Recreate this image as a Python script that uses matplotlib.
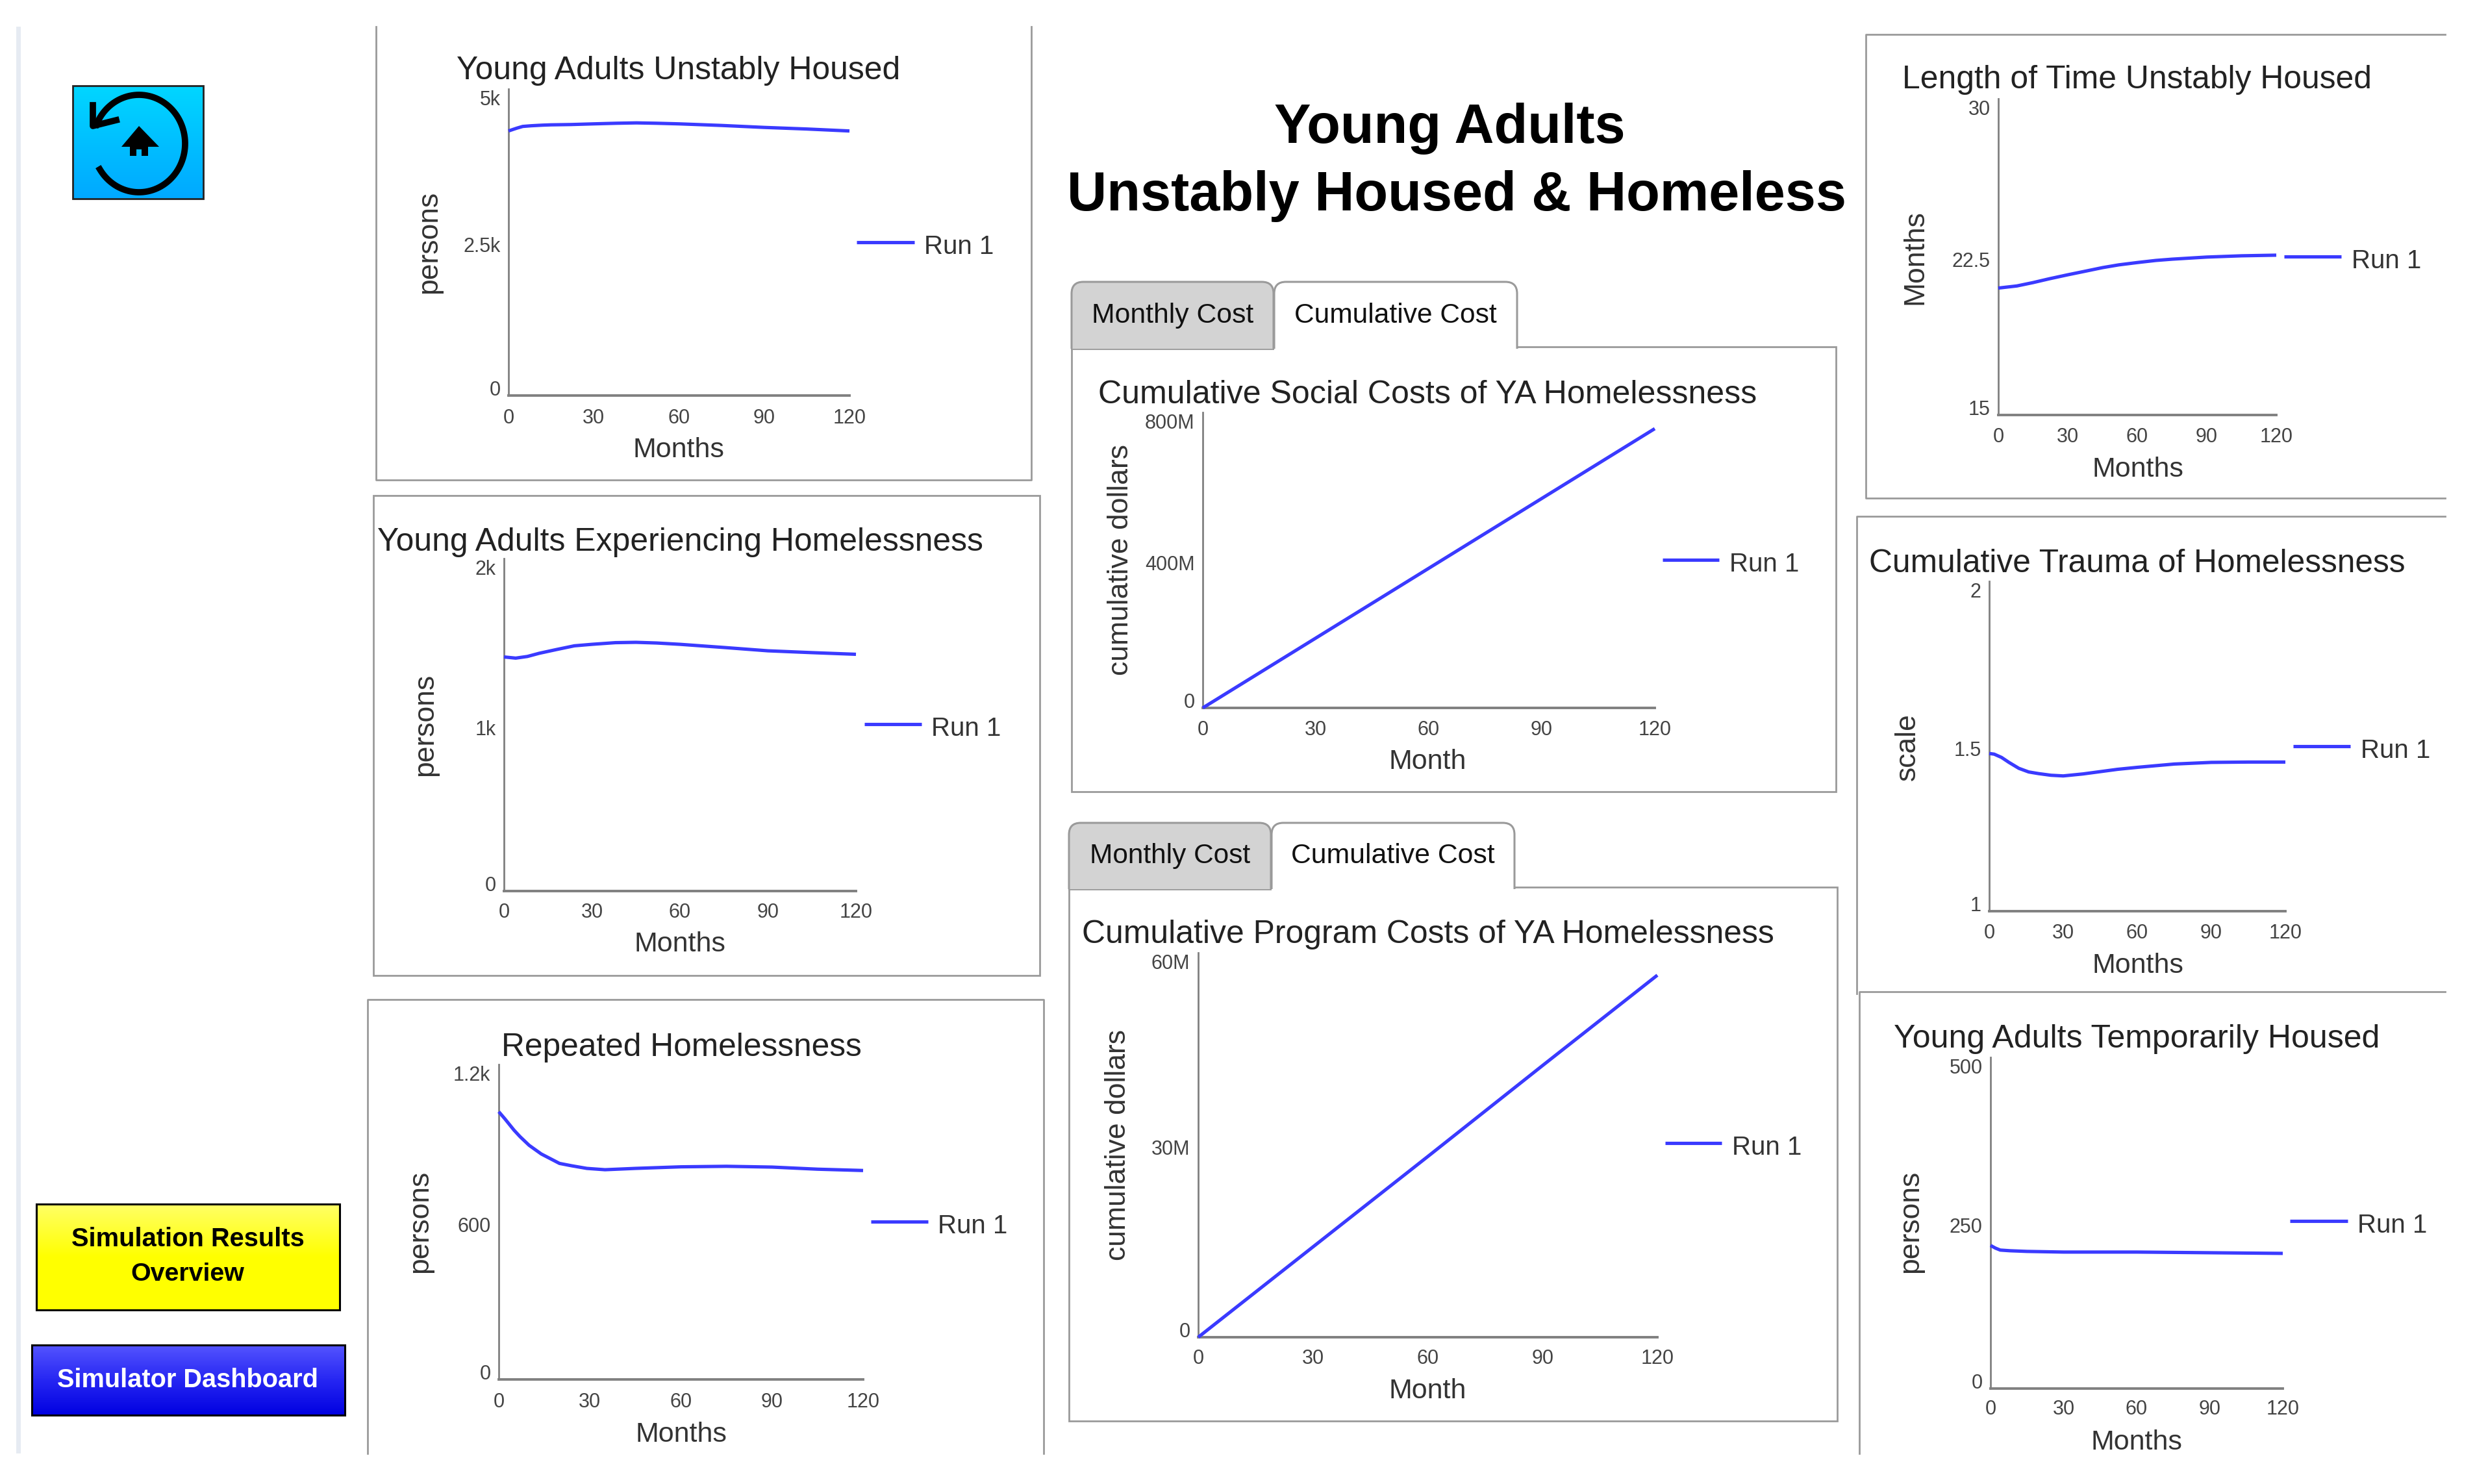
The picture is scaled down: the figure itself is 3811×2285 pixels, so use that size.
#!/usr/bin/env python
# -*- coding: utf-8 -*-

import numpy as np
import matplotlib.pyplot as plt
from matplotlib.patches import Rectangle, PathPatch, Polygon
from matplotlib.path import Path
from matplotlib.transforms import ScaledTranslation

plt.rcParams['font.family'] = ['Liberation Sans', 'DejaVu Sans']

# Values
unstableMonths = [0, 1, 3, 5, 8, 12, 15, 22, 30, 38, 45, 52, 60, 75, 90, 105, 120]
unstableVals = [4315, 4331, 4362, 4389, 4400, 4410, 4415, 4420, 4431, 4441, 4447, 4441,
                4431, 4405, 4373, 4347, 4315]

homelessMonths = [0, 4, 8, 12, 18, 24, 30, 38, 45, 52, 60, 75, 90, 105, 120]
homelessVals = [1408, 1401, 1411, 1430, 1453, 1475, 1484, 1494, 1496, 1492, 1484, 1465,
                1445, 1434, 1424]

repeatMonths = [0, 2, 5, 7, 10, 14, 17, 20, 24, 29, 35, 45, 60, 75, 90, 105, 120]
repeatVals = [1020, 993, 950, 925, 892, 859, 841, 823, 814, 804, 799, 804, 810, 812, 809,
              801, 796]

socialMonths = [0, 30, 60, 90, 120]
socialVals = [0, 189e6, 378e6, 567e6, 756e6]

programMonths = [0, 30, 60, 90, 120]
programVals = [0, 14.1e6, 28.2e6, 42.4e6, 56.5e6]

lengthMonths = [0, 8, 15, 22, 30, 38, 45, 52, 60, 68, 75, 90, 105, 120]
lengthVals = [21.02, 21.12, 21.28, 21.46, 21.65, 21.83, 21.99, 22.12, 22.23, 22.33, 22.39,
              22.49, 22.55, 22.58]

traumaMonths = [0, 2, 5, 8, 12, 16, 20, 25, 30, 38, 45, 52, 60, 75, 90, 105, 120]
traumaVals = [1.478, 1.476, 1.466, 1.451, 1.433, 1.422, 1.417, 1.412, 1.410, 1.416, 1.423,
              1.430, 1.436, 1.446, 1.451, 1.452, 1.452]

tempMonths = [0, 1, 2, 4, 8, 15, 30, 60, 90, 120]
tempVals = [216, 214, 212, 209, 208, 207, 206, 206, 205, 204]

monthTicks = [0, 30, 60, 90, 120]

W, H = 3812, 2285
LINE_BLUE = '#3a3aff'
AXIS_GRAY = '#808080'
BOX_GRAY = '#9a9a9a'

fig = plt.figure(figsize=(W / 100, H / 100), dpi=100, facecolor='white')
bg = fig.add_axes([0, 0, 1, 1])
bg.set_xlim(0, W)
bg.set_ylim(H, 0)
bg.axis('off')
renderer = fig.canvas.get_renderer()


def fitText(x, y, s, width, **kw):
    # Text sized so its drawn width matches what the reference shows
    t = bg.text(x, y, s, ha='center', va='center', fontsize=30, **kw)
    t.set_fontsize(30 * width / t.get_window_extent(renderer).width)
    return t


def boxLine(xs, ys, color=BOX_GRAY, lw=2.0):
    bg.plot(xs, ys, color=color, lw=lw, solid_capstyle='projecting', zorder=2)


def gradientButton(l, r, t, b, stops):
    grad = np.linspace(0, 1, 256)
    colors = np.array([[np.interp(g, [0, .5, 1], [s[i] for s in stops]) for i in range(3)]
                       for g in grad])
    bg.imshow(colors[:, np.newaxis, :], extent=[l, r, b, t], aspect='auto', zorder=3)
    bg.add_patch(Rectangle((l, t), r - l, b - t, fill=False, ec='black', lw=2.2, zorder=4))


def tabPath(l, r, t, b, rad=18):
    verts = [(l, b), (l, t + rad), (l, t), (l + rad, t), (r - rad, t), (r, t), (r, t + rad), (r, b)]
    codes = [Path.MOVETO, Path.LINETO, Path.CURVE3, Path.CURVE3, Path.LINETO,
             Path.CURVE3, Path.CURVE3, Path.LINETO]
    return Path(verts, codes)


def drawTabs(monthly, active, top, bottom, yText, monthlyWidth, activeWidth):
    bg.add_patch(PathPatch(tabPath(monthly[0], monthly[1], top, bottom), fc='#d3d3d3',
                           ec=BOX_GRAY, lw=2.2, zorder=5))
    boxLine([monthly[0], monthly[1]], [bottom, bottom])
    # Active tab is white and has no bottom edge, so it opens into the panel
    bg.add_patch(PathPatch(tabPath(active[0], active[1], top, bottom + 2), fc='white',
                           ec='none', zorder=5))
    bg.add_patch(PathPatch(tabPath(active[0], active[1], top, bottom), fc='none',
                           ec=BOX_GRAY, lw=2.2, zorder=6))
    fitText(sum(monthly) / 2, yText, 'Monthly Cost', monthlyWidth, color='#111111', zorder=7)
    fitText(sum(active) / 2, yText, 'Cumulative Cost', activeWidth, color='#111111', zorder=7)


def drawChart(months, vals, frame, yTicks, yLabels, title, titleBox, yName, yNamePos,
              xName, xNamePos, tickY, legend):
    x0, x1, yTop, y0 = frame
    ax = fig.add_axes([x0 / W, 1 - y0 / H, (x1 - x0) / W, (y0 - yTop) / H])
    ax.patch.set_alpha(0)
    ax.plot(months, vals, color=LINE_BLUE, lw=3.7, clip_on=False, solid_capstyle='butt', zorder=5)
    ax.set_xlim(monthTicks[0], monthTicks[-1])
    ax.set_ylim(yTicks[0], yTicks[-1])
    for side in ['top', 'right']:
        ax.spines[side].set_visible(False)
    ax.spines['left'].set_color(AXIS_GRAY)
    ax.spines['left'].set_linewidth(2.0)
    ax.spines['bottom'].set_color(AXIS_GRAY)
    ax.spines['bottom'].set_linewidth(2.8)
    ax.set_xticks(monthTicks)
    ax.set_xticklabels([str(m) for m in monthTicks])
    ax.set_yticks(yTicks)
    ax.set_yticklabels(yLabels)
    ax.tick_params(axis='x', length=0, pad=(tickY - 13 - y0) * 0.72, labelsize=22, labelcolor='#444444')
    ax.tick_params(axis='y', length=0, pad=9, labelsize=22, labelcolor='#444444')
    ylabs = ax.get_yticklabels()
    ylabs[0].set_verticalalignment('bottom')
    ylabs[-1].set_verticalalignment('top')
    # Tick labels sit a little lower in the reference than the font metrics put them
    for lab, dropPx in zip(ylabs, [7, 4, 2]):
        lab.set_transform(lab.get_transform() + ScaledTranslation(0, -dropPx / 100, fig.dpi_scale_trans))

    fitText(titleBox[0], titleBox[1] + 5, title, titleBox[2], color='#222222', zorder=7)
    bg.text(yNamePos[0], yNamePos[1], yName, rotation=90, ha='center', va='center',
            fontsize=32, color='#333333', zorder=7)
    bg.text(xNamePos[0], xNamePos[1] + 4, xName, ha='center', va='center', fontsize=31,
            color='#333333', zorder=7)
    bg.plot(legend[:2], [legend[2], legend[2]], color=LINE_BLUE, lw=3.7,
            solid_capstyle='butt', zorder=7)
    bg.text(legend[3], legend[2] + 7, 'Run 1', ha='left', va='center', fontsize=29,
            color='#333333', zorder=7)


# Page furniture on the left
bg.add_patch(Rectangle((25, 41), 7, 2197, fc='#e6ebf2', ec='none', zorder=1))

# Home button
grad = np.linspace(0, 1, 256)
iconColors = np.column_stack([0 * grad, np.interp(grad, [0, 1], [.84, .66]), np.ones(256)])
bg.imshow(iconColors[:, np.newaxis, :], extent=[112, 313, 306, 132], aspect='auto', zorder=3)
bg.add_patch(Rectangle((112, 132), 201, 174, fill=False, ec='#222222', lw=2.0, zorder=4))
theta = np.radians(np.linspace(-157, 148, 200))
bg.plot(214 + 71 * np.cos(theta), 221 + 75 * np.sin(theta), color='black', lw=7, zorder=5)
bg.plot([143, 143, 179], [162, 194, 185], color='black', lw=7, zorder=5)
bg.add_patch(Polygon([(214, 194), (187, 226), (200, 226), (200, 240), (210, 240), (210, 230),
                      (218, 230), (218, 240), (228, 240), (228, 226), (245, 226)],
                     fc='black', ec='none', zorder=5))

gradientButton(56, 523, 1854, 2017, [(1, 1, .4), (1, 1, 0), (1, 1, 0)])
fitText(289, 1908, 'Simulation Results', 360, color='black', fontweight='bold', zorder=5)
fitText(289, 1962, 'Overview', 175, color='black', fontweight='bold', zorder=5)
gradientButton(49, 531, 2071, 2179, [(.33, .33, 1), (.15, .15, .95), (0, 0, .88)])
fitText(289, 2125, 'Simulator Dashboard', 402, color='white', fontweight='bold', zorder=5)

# Headline
fitText(2232, 198, 'Young Adults', 541, color='black', fontweight='bold', zorder=5)
fitText(2243, 302, 'Unstably Housed & Homeless', 1201, color='black', fontweight='bold', zorder=5)

# Panel outlines
boxLine([579, 579, 1588, 1588], [41, 739, 739, 41])
bg.add_patch(Rectangle((575, 763), 1026, 739, fill=False, ec=BOX_GRAY, lw=2.0, zorder=2))
boxLine([566, 566, 1607, 1607], [2238, 1539, 1539, 2238])
boxLine([3765, 2873, 2873, 3765], [53, 53, 767, 767])
boxLine([3765, 2859, 2859], [795, 795, 1530])
boxLine([3765, 2863, 2863], [1527, 1527, 2238])
bg.add_patch(Rectangle((1650, 534), 1177, 685, fill=False, ec=BOX_GRAY, lw=2.0, zorder=2))
bg.add_patch(Rectangle((1646, 1366), 1183, 822, fill=False, ec=BOX_GRAY, lw=2.0, zorder=2))

drawTabs((1650, 1961), (1962, 2336), 434, 537, 486, 249, 311)
drawTabs((1646, 1957), (1958, 2332), 1267, 1369, 1318, 247, 313)

# Charts
drawChart(unstableMonths, unstableVals, (783, 1308, 137, 609), [0, 2500, 5000],
          ['0', '2.5k', '5k'], 'Young Adults Unstably Housed', (1045, 104, 682),
          'persons', (661, 373), 'Months', (1045, 689), 642, (1319, 1408, 373, 1423))
drawChart(homelessMonths, homelessVals, (776, 1318, 860, 1372), [0, 1000, 2000],
          ['0', '1k', '2k'], 'Young Adults Experiencing Homelessness', (1047, 830, 931),
          'persons', (655, 1116), 'Months', (1047, 1450), 1403, (1331, 1419, 1115, 1434))
drawChart(repeatMonths, repeatVals, (768, 1329, 1639, 2124), [0, 600, 1200],
          ['0', '600', '1.2k'], 'Repeated Homelessness', (1049, 1608, 553),
          'persons', (647, 1881), 'Months', (1049, 2205), 2157, (1341, 1429, 1881, 1444))
drawChart(socialMonths, socialVals, (1852, 2548, 635, 1090), [0, 400e6, 800e6],
          ['0', '400M', '800M'], 'Cumulative Social Costs of YA Homelessness', (2198, 603, 1013),
          'cumulative dollars', (1726, 862), 'Month', (2198, 1169), 1122, (2560, 2647, 862, 2663))
drawChart(programMonths, programVals, (1845, 2552, 1467, 2059), [0, 30e6, 60e6],
          ['0', '30M', '60M'], 'Cumulative Program Costs of YA Homelessness', (2199, 1434, 1064),
          'cumulative dollars', (1722, 1763), 'Month', (2198, 2138), 2090, (2564, 2651, 1760, 2667))
drawChart(lengthMonths, lengthVals, (3077, 3505, 152, 639), [15, 22.5, 30],
          ['15', '22.5', '30'], 'Length of Time Unstably Housed', (3291, 118, 720),
          'Months', (2949, 396), 'Months', (3292, 719), 671, (3517, 3605, 395, 3621))
drawChart(traumaMonths, traumaVals, (3063, 3519, 895, 1403), [1, 1.5, 2],
          ['1', '1.5', '2'], 'Cumulative Trauma of Homelessness', (3291, 863, 824),
          'scale', (2937, 1150), 'Months', (3292, 1483), 1435, (3531, 3619, 1149, 3635))
drawChart(tempMonths, tempVals, (3065, 3515, 1628, 2138), [0, 250, 500],
          ['0', '250', '500'], 'Young Adults Temporarily Housed', (3290, 1595, 747),
          'persons', (2942, 1881), 'Months', (3290, 2217), 2168, (3526, 3615, 1880, 3630))

bg.set_xlim(0, W)
bg.set_ylim(H, 0)
fig.savefig('out.png', dpi=100)
plt.close(fig)
